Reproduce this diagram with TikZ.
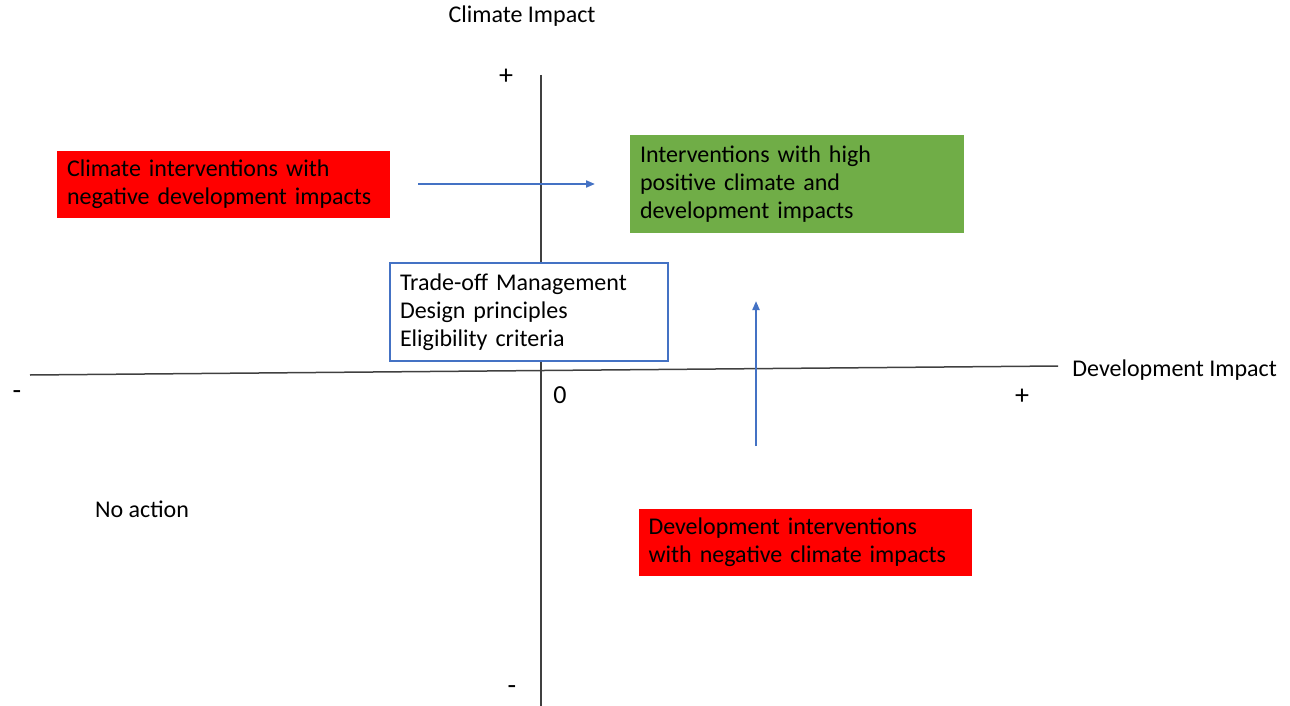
\documentclass[tikz,border=0pt]{standalone}
\usepackage{fontspec}
\setmainfont{Carlito}
\usetikzlibrary{arrows.meta}
\definecolor{redbox}{HTML}{FF0000}
\definecolor{greenbox}{HTML}{70AD47}
\definecolor{bluel}{HTML}{4472C4}
\definecolor{axisc}{HTML}{404040}
\begin{document}
\begin{tikzpicture}[x=0.5pt,y=-0.5pt,
  axisline/.style={draw=axisc,line width=0.75pt},
  lbl/.style={font=\fontsize{12}{14}\selectfont,inner sep=0pt},
  signlbl/.style={font=\fontsize{14}{16}\selectfont,inner sep=0pt},
  boxbase/.style={rectangle,inner xsep=5pt,inner ysep=0pt,align=left,
    font=\fontsize{12}{14}\selectfont,anchor=center},
  redb/.style={boxbase,fill=redbox,minimum height=33.5pt,minimum width=166.5pt,text width=156.5pt},
  greenb/.style={boxbase,fill=greenbox,minimum height=49pt,minimum width=167pt,text width=157pt},
  whiteb/.style={boxbase,draw=bluel,line width=0.9pt,fill=white,minimum height=49pt,minimum width=139pt,text width=129pt},
  barrow/.style={draw=bluel,line width=1pt,-{Triangle[length=4.5pt,width=3.5pt]}}
]
\useasboundingbox (0,0) rectangle (1290,706);
% axes
\coordinate (vtop) at (541,75);
\coordinate (vbot) at (541,706);
\coordinate (hleft) at (30,375);
\coordinate (hright) at (1058,366);
\draw[axisline] (vtop) -- (vbot);
\draw[axisline] (hleft) -- (hright);
% axis labels
\node[lbl] (climate) at (522,16) {Climate Impact};
\node[lbl,anchor=west] (devimp) at (1072,370) {Development Impact};
\node[signlbl] (plustop) at (506,77) {+};
\node[signlbl] (minusleft) at (17,395) {-};
\node[lbl,font=\fontsize{13}{15}\selectfont] (zero) at (560,395) {0};
\node[signlbl] (plusright) at (1022,397) {+};
\node[signlbl] (minusbot) at (512,690) {-};
\node[lbl] (noaction) at (142,509) {No action};
% boxes
\node[redb] (climneg) at (223.5,184.5) {Climate interventions with\\negative development impacts};
\node[greenb] (high) at (797,184) {Interventions with high\\positive climate and\\development impacts};
\node[whiteb] (trade) at (529,312) {Trade-off Management\\Design principles\\Eligibility criteria};
\node[redb] (devneg) at (805,542) {Development interventions\\with negative climate impacts};
% arrows
\coordinate (a1s) at (418,184);
\coordinate (a1e) at (595,184);
\coordinate (a2s) at (756,446);
\coordinate (a2e) at (756,301);
\draw[barrow] (a1s) -- (a1e);
\draw[barrow] (a2s) -- (a2e);
\end{tikzpicture}
\end{document}
